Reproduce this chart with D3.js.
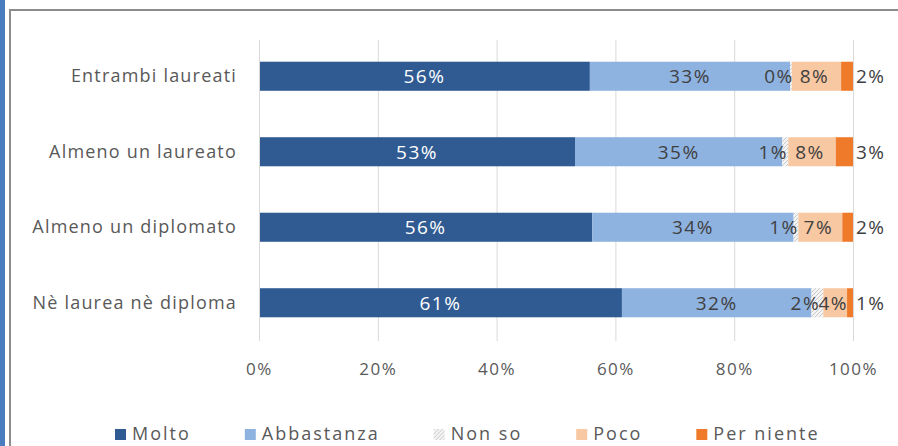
<!DOCTYPE html>
<html><head><meta charset="utf-8">
<script src="https://cdn.jsdelivr.net/npm/d3@7"></script>
<style>
html,body{margin:0;padding:0;background:#fff;}
svg{display:block;font-family:"Open Sans","Liberation Sans",sans-serif;}
</style></head>
<body>
<svg id="c" width="898" height="446"></svg>
<script>
const categories = ["Entrambi laureati", "Almeno un laureato", "Almeno un diplomato", "Nè laurea nè diploma"];
const seriesNames = ["Molto", "Abbastanza", "Non so", "Poco", "Per niente"];
const molto      = [55.7, 53.2, 56.1, 61.1];
const abbastanza = [33.7, 34.9, 33.9, 31.9];
const nonSo      = [0.3, 1.0, 0.8, 2.0];
const poco       = [8.3, 8.0, 7.4, 4.0];
const perNiente  = [2.0, 2.9, 1.8, 1.0];
const labels = [
  ["56%","33%","0%","8%","2%"],
  ["53%","35%","1%","8%","3%"],
  ["56%","34%","1%","7%","2%"],
  ["61%","32%","2%","4%","1%"]
];
const xTicks = [0, 20, 40, 60, 80, 100];

const colors = ["#305b92", "#8fb3e0", "url(#hatch)", "#f8c8a2", "#ef7b2a"];
const labelColors = ["#ffffff", "#404040", "#404040", "#404040", "#404040"];

const svg = d3.select("#c");
const defs = svg.append("defs");
const pat = defs.append("pattern").attr("id","hatch").attr("patternUnits","userSpaceOnUse")
  .attr("width",4).attr("height",4);
pat.append("rect").attr("width",4).attr("height",4).attr("fill","#f4f4f4");
pat.append("path").attr("d","M0,4 L4,0").attr("stroke","#c8c8c8").attr("stroke-width",1);

// page decoration: blue strip and frame
svg.append("rect").attr("x",0).attr("y",0).attr("width",5).attr("height",446).attr("fill","#4a7dbf");
svg.append("rect").attr("x",10).attr("y",10).attr("width",900).attr("height",440)
  .attr("fill","#fff").attr("stroke","#8c8c8c").attr("stroke-width",2);

const x = d3.scaleLinear().domain([0,100]).range([259,853]);
const y = d3.scaleBand().domain(categories).range([38.5,340.5]).paddingInner(0.615).paddingOuter(0.3075);

// gridlines
const gx = svg.append("g");
gx.selectAll("line").data(xTicks).join("line")
  .attr("x1",d=>x(d)+0.5).attr("x2",d=>x(d)+0.5).attr("y1",40).attr("y2",341)
  .attr("stroke","#d9d9d9").attr("stroke-width",1);

// stacked data
const rows = categories.map((c,i)=>({cat:c, vals:[molto[i],abbastanza[i],nonSo[i],poco[i],perNiente[i]], labs:labels[i]}));
const segs = [];
rows.forEach(r=>{
  let acc = 0;
  r.vals.forEach((v,k)=>{ segs.push({cat:r.cat,k,x0:acc,x1:acc+v,lab:r.labs[k]}); acc+=v; });
});

svg.append("g").selectAll("rect").data(segs).join("rect")
  .attr("x",d=>x(d.x0)).attr("width",d=>Math.max(0,x(d.x1)-x(d.x0)))
  .attr("y",d=>y(d.cat)).attr("height",y.bandwidth())
  .attr("fill",d=>colors[d.k]);

// category axis line
svg.append("line").attr("x1",259.5).attr("x2",259.5).attr("y1",40).attr("y2",341).attr("stroke","#d9d9d9");

// data labels
const dxByK = [0,0,-12,-2,0];
svg.append("g").selectAll("text").data(segs).join("text")
  .attr("x",d=> d.k===4 ? x(100)+3 : (x(d.x0)+x(d.x1))/2 + dxByK[d.k])
  .attr("y",d=>y(d.cat)+y.bandwidth()/2)
  .attr("dy","0.36em")
  .attr("text-anchor",d=> d.k===4 ? "start" : "middle")
  .attr("font-size",19)
  .attr("letter-spacing",1.5)
  .attr("fill",d=>labelColors[d.k])
  .text(d=>d.lab);

// category labels
const yAxis = d3.axisLeft(y).tickSize(0).tickPadding(22);
const ya = svg.append("g").attr("transform","translate(259,0)").call(yAxis);
ya.select(".domain").remove();
ya.selectAll("text").attr("font-size",18).attr("letter-spacing",1.2).attr("fill","#595959").attr("font-family","'Open Sans',sans-serif");

// x axis ticks
const xAxis = d3.axisBottom(x).tickValues(xTicks).tickFormat(d=>d+"%").tickSize(0).tickPadding(0);
const xa = svg.append("g").attr("transform","translate(0,363)").call(xAxis);
xa.select(".domain").remove();
xa.selectAll("text").attr("font-size",17).attr("letter-spacing",1.5).attr("fill","#595959").attr("font-family","'Open Sans',sans-serif");

// legend
const legend = svg.append("g").attr("transform","translate(0,434)");
let lx = 115;
seriesNames.forEach((n,k)=>{
  const g = legend.append("g").attr("transform",`translate(${lx},0)`);
  g.append("rect").attr("x",0).attr("y",-5).attr("width",11).attr("height",11).attr("fill",colors[k]);
  const t = g.append("text").attr("x",17).attr("y",0).attr("dy","0.36em")
    .attr("font-size",18).attr("letter-spacing",2).attr("fill","#595959").text(n);
  const w = t.node().getComputedTextLength();
  lx += 17 + w + 54;
});
</script>
</body></html>
